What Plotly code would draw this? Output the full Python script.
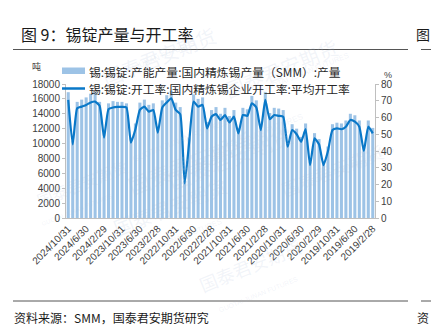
import pandas as pd
import plotly.graph_objects as go

# ---- data (newest first, as in the reference, monthly 2024/10 -> 2019/2) ----
months = [f"{d.year}/{d.month}/{d.day}"
          for d in pd.date_range("2019-02-28", "2024-10-31", freq="ME")][::-1]

output_t = [16900, 10400, 15600, 15900, 16200, 16700, 16900, 15600, 11500, 15400,
            15700, 15600, 15600, 15400, 10800, 12700, 15500, 15900, 15200, 15400,
            12300, 15800, 16500, 17100, 15500, 14900, 5000, 10800, 16600, 16000,
            16200, 12900, 14500, 14900, 14000, 14800, 13700, 14500, 12100, 14800,
            14600, 16400, 15800, 12600, 16900, 14100, 14800, 14700, 14500, 10200,
            12600, 12000, 10900, 12700, 7600, 11400, 10600, 7600, 9600, 12600,
            12800, 12700, 13100, 14000, 13800, 13100, 9600, 13100, 12100]

rate_pct = [70.5, 44.0, 65.5, 66.5, 67.5, 69.0, 69.5, 67.0, 48.0, 65.0,
            66.0, 66.3, 66.3, 66.0, 45.0, 53.0, 64.5, 66.5, 63.5, 64.5,
            51.0, 66.0, 69.0, 71.5, 64.5, 62.0, 20.7, 45.0, 69.5, 66.5,
            67.5, 53.5, 60.5, 62.0, 58.5, 61.5, 57.0, 60.5, 50.5, 61.5,
            61.0, 68.5, 66.0, 52.5, 70.5, 59.0, 61.5, 61.0, 60.5, 42.6,
            52.5, 50.0, 45.5, 53.0, 31.6, 47.5, 44.0, 31.6, 40.0, 52.5,
            53.5, 53.0, 54.5, 58.5, 57.5, 54.5, 40.0, 54.5, 50.5]

tick_labels = ["2024/10/31", "2024/6/30", "2024/2/29", "2023/10/31", "2023/6/30",
               "2023/2/28", "2022/10/31", "2022/6/30", "2022/2/28", "2021/10/31",
               "2021/6/30", "2021/2/28", "2020/10/31", "2020/6/30", "2020/2/29",
               "2019/10/31", "2019/6/30", "2019/2/28"]

bar_name = "锡:锡锭:产能产量:国内精炼锡产量（SMM）:产量"
line_name = "锡:锡锭:开工率:国内精炼锡企业开工率:平均开工率"
title_text = "图 9：锡锭产量与开工率"
source_text = "资料来源：SMM，国泰君安期货研究"

BAR_C = "#9DC3E6"
LINE_C = "#0A78C8"
CJK = "Noto Sans CJK SC"
NUM = "Liberation Sans, Arial"

W, H = 431, 330
L, R, T, B = 66, 375, 84, 218  # plot area in px


def px(x):
    return (x - L) / (R - L)


def py(y):
    return (B - y) / (B - T)


fig = go.Figure()
fig.add_trace(go.Bar(x=months, y=output_t, name=bar_name, marker_color=BAR_C,
                     marker_line_width=0, yaxis="y"))
fig.add_trace(go.Scatter(x=months, y=rate_pct, name=line_name, mode="lines",
                         line=dict(color=LINE_C, width=2.2, shape="spline", smoothing=0.5),
                         yaxis="y2"))

axis_col = "#BFBFBF"
fig.update_layout(
    width=W, height=H,
    margin=dict(l=L, r=W - R, t=T, b=H - B, pad=0),
    paper_bgcolor="white", plot_bgcolor="white",
    showlegend=False, bargap=0.32,
    xaxis=dict(type="category", categoryorder="array", categoryarray=months,
               range=[-0.5, len(months) - 0.5],
               tickmode="array", tickvals=tick_labels, ticktext=tick_labels,
               tickangle=-45, tickfont=dict(family=NUM, size=10, color="#404040"),
               showline=True, linecolor=axis_col, linewidth=1,
               ticks="", showgrid=False, zeroline=False),
    yaxis=dict(range=[0, 18000], dtick=2000, tickformat="d", showgrid=False, zeroline=False,
               showline=True, linecolor=axis_col, linewidth=1,
               ticks="outside", ticklen=3, tickcolor=axis_col,
               tickfont=dict(family=NUM, size=10, color="#404040")),
    yaxis2=dict(range=[0, 80], dtick=10, overlaying="y", side="right",
                showgrid=False, zeroline=False,
                showline=True, linecolor=axis_col, linewidth=1,
                ticks="outside", ticklen=3, tickcolor=axis_col,
                tickfont=dict(family=NUM, size=10, color="#404040")),
)

shapes = []
ann = []

# watermarks (faint)
for (wx, wy, s) in [(95, 18, 20), (345, 30, 20), (120, 120, 22), (300, 115, 22),
                    (170, 245, 20), (390, 170, 18), (250, 300, 18), (30, 215, 16)]:
    ann.append(dict(x=px(wx), y=py(wy), xref="paper", yref="paper",
                    text="国泰君安期货", showarrow=False, textangle=-22,
                    font=dict(family=CJK, size=s, color="rgba(170,190,215,0.16)")))
    ann.append(dict(x=px(wx + 8), y=py(wy + s * 0.9), xref="paper", yref="paper",
                    text="GUOTAI JUNAN FUTURES", showarrow=False, textangle=-22,
                    font=dict(family=NUM, size=s * 0.38, color="rgba(170,190,215,0.16)")))

# title and rules
ann.append(dict(x=px(19), y=py(34), xref="paper", yref="paper", xanchor="left",
                yanchor="middle", text=title_text, showarrow=False,
                font=dict(family=CJK, size=16, color="#1a1a1a")))
ann.append(dict(x=px(414), y=py(34), xref="paper", yref="paper", xanchor="left",
                yanchor="middle", text="图", showarrow=False,
                font=dict(family=CJK, size=14, color="#1a1a1a")))
ann.append(dict(x=px(12), y=py(317), xref="paper", yref="paper", xanchor="left",
                yanchor="middle", text=source_text, showarrow=False,
                font=dict(family=CJK, size=12, color="#1a1a1a")))
ann.append(dict(x=px(415), y=py(317), xref="paper", yref="paper", xanchor="left",
                yanchor="middle", text="资", showarrow=False,
                font=dict(family=CJK, size=12, color="#1a1a1a")))
for yy in (49.5, 301):
    shapes.append(dict(type="line", xref="paper", yref="paper", x0=px(13), x1=px(408),
                       y0=py(yy), y1=py(yy), line=dict(color="#555555", width=1)))
    shapes.append(dict(type="line", xref="paper", yref="paper", x0=px(421), x1=px(431),
                       y0=py(yy), y1=py(yy), line=dict(color="#555555", width=1)))

# axis unit labels
ann.append(dict(x=px(30), y=py(75), xref="paper", yref="paper", text="吨",
                showarrow=False, yanchor="bottom",
                font=dict(family=CJK, size=9, color="#404040")))
ann.append(dict(x=px(394), y=py(68), xref="paper", yref="paper", text="%",
                showarrow=False, font=dict(family=NUM, size=9, color="#404040")))

# legend (manual)
shapes.append(dict(type="rect", xref="paper", yref="paper", x0=px(62), x1=px(85),
                   y0=py(74), y1=py(67.5), fillcolor=BAR_C, line=dict(width=0)))
shapes.append(dict(type="line", xref="paper", yref="paper", x0=px(62), x1=px(85),
                   y0=py(88.5), y1=py(88.5), line=dict(color=LINE_C, width=2.5)))
ann.append(dict(x=px(87), y=py(71), xref="paper", yref="paper", xanchor="left",
                yanchor="middle", text=bar_name, showarrow=False,
                font=dict(family=CJK, size=11.8, color="#262626")))
ann.append(dict(x=px(87), y=py(88.5), xref="paper", yref="paper", xanchor="left",
                yanchor="middle", text=line_name, showarrow=False,
                font=dict(family=CJK, size=11.8, color="#262626")))

fig.update_layout(shapes=shapes, annotations=ann)
fig.write_html("out.html")
